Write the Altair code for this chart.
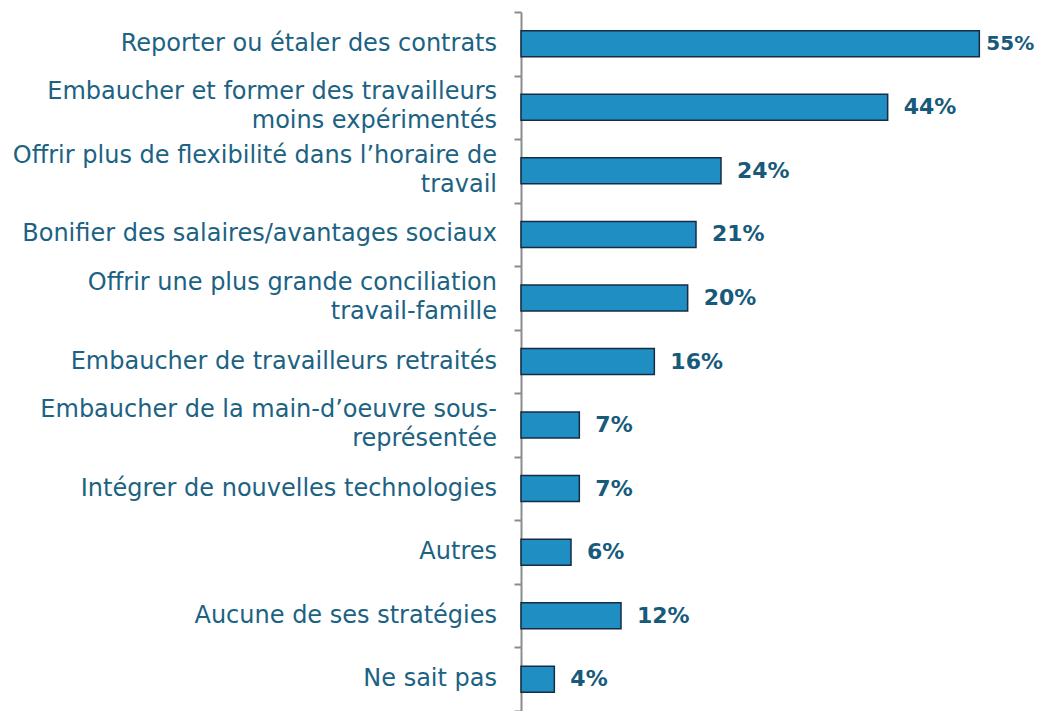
import altair as alt
import pandas as pd

categories = [
    "Reporter ou étaler des contrats",
    "Embaucher et former des travailleurs|moins expérimentés",
    "Offrir plus de flexibilité dans l’horaire de|travail",
    "Bonifier des salaires/avantages sociaux",
    "Offrir une plus grande conciliation|travail-famille",
    "Embaucher de travailleurs retraités",
    "Embaucher de la main-d’oeuvre sous-|représentée",
    "Intégrer de nouvelles technologies",
    "Autres",
    "Aucune de ses stratégies",
    "Ne sait pas",
]
values = [55, 44, 24, 21, 20, 16, 7, 7, 6, 12, 4]
labels = ["55%", "44%", "24%", "21%", "20%", "16%", "7%", "7%", "6%", "12%", "4%"]

df = pd.DataFrame({"cat": categories, "val": values, "lab": labels})

FONT = "DejaVu Sans"
TXT = "#1B6283"
VAL = "#175A7C"

yscale = alt.Scale(paddingInner=0, paddingOuter=0)
y = alt.Y(
    "cat:N",
    sort=categories,
    title=None,
    scale=yscale,
    axis=alt.Axis(
        labels=False,
        domainColor="#8C8C8C",
        domainWidth=2,
        tickColor="#8C8C8C",
        tickWidth=2,
        tickSize=7,
        tickBand="extent",
    ),
)
y_plain = alt.Y("cat:N", sort=categories)
x = alt.X("val:Q", scale=alt.Scale(domain=[0, 60]), axis=None)

base = alt.Chart(df)

bars = base.mark_bar(
    color="#1F8EC2", stroke="#172B45", strokeWidth=1.5, size=26,
).encode(x=x, y=y)

text_main = base.transform_filter("datum.val < 50").mark_text(
    align="left", baseline="middle", dx=16, font=FONT, fontSize=22,
    fontWeight="bold", color=VAL
).encode(x=x, y=y_plain, text="lab:N")

text_top = base.transform_filter("datum.val >= 50").mark_text(
    align="left", baseline="middle", dx=7, font=FONT, fontSize=20,
    fontWeight="bold", color=VAL
).encode(x=x, y=y_plain, text="lab:N")

cat_single = base.transform_filter(
    "indexof(datum.cat, '|') < 0"
).mark_text(
    align="right", baseline="middle", font=FONT, fontSize=24, color=TXT
).encode(x=alt.value(-24), y=y_plain, text="cat:N")

cat_multi = base.transform_filter(
    "indexof(datum.cat, '|') >= 0"
).transform_calculate(
    lines="split(datum.cat, '|')"
).mark_text(
    align="right", baseline="line-bottom", lineHeight=29, font=FONT, fontSize=24, color=TXT
).encode(x=alt.value(-24), y=y_plain, text="lines:N")

chart = (bars + text_main + text_top + cat_single + cat_multi).properties(
    width=500, height=699,
    autosize=alt.AutoSizeParams(type="none"),
    padding={"left": 513, "top": 4, "right": 14, "bottom": 0},
    background="white",
).configure_view(strokeWidth=0, stroke=None)

chart.save("out.html", embed_options={"renderer": "svg", "actions": False})
